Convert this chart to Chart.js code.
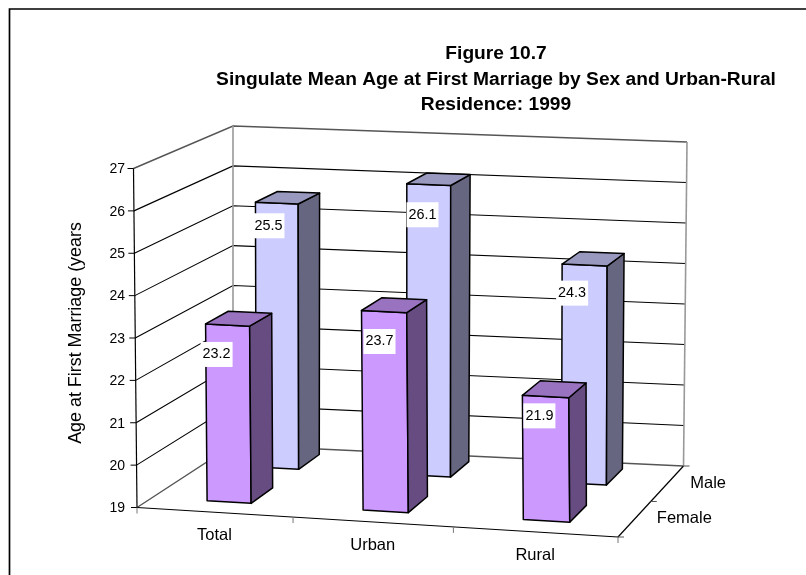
<!DOCTYPE html>
<html>
<head>
<meta charset="utf-8">
<title>Figure 10.7</title>
<script src="https://cdn.jsdelivr.net/npm/chart.js@4"></script>
<style>
  html, body { margin: 0; padding: 0; background: #fff; }
  #wrap { position: relative; width: 806px; height: 575px; }
</style>
</head>
<body>
<div id="wrap"><canvas id="marriageChart" width="806" height="575"></canvas></div>
<script>
const categories = ['Total', 'Urban', 'Rural'];
const femaleAges = [23.2, 23.7, 21.9];
const maleAges = [25.5, 26.1, 24.3];
const depthLabels = ['Female', 'Male'];
const titleLines = ['Figure 10.7', 'Singulate Mean Age at First Marriage by Sex and Urban-Rural', 'Residence: 1999'];
const yTitle = 'Age at First Marriage (years';

const FONT = '"Liberation Sans", Arial, sans-serif';

// corners of the 3d box on screen, b = floor, t = top, f/b = front/back, l/r = left/right
const box = {
    bfl: [137, 507.5], bfr: [618, 537], bbl: [233, 445], bbr: [683.5, 466],
    tfl: [133.5, 168.5], tfr: [614.5, 189], tbl: [233, 126], tbr: [687, 142]
};
const depthRange = [[0.16, 0.40], [0.69, 0.92]]; // female row, male row
const faceColors = [
    { front: '#CC99FF', top: '#9973BF', side: '#664C80' },
    { front: '#CCCCFF', top: '#9999BF', side: '#666680' }
];
// excel placed the data labels by hand, offset from front top left corner of the bar
const labelNudge = [
    [[11, 30.5], [18, 31], [17, 20.5]],
    [[13, 23.5], [15.7, 31], [10, 29]]
];
const depthLabelNudge = [50, 41];

function lerp(a, b, t) { return [a[0] + (b[0] - a[0]) * t, a[1] + (b[1] - a[1]) * t]; }

function project(u, v, w) {
    u = u - 0.04 * u * (1 - u); // slight perspective squeeze
    const floor = lerp(lerp(box.bfl, box.bfr, u), lerp(box.bbl, box.bbr, u), w);
    const top = lerp(lerp(box.tfl, box.tfr, u), lerp(box.tbl, box.tbr, u), w);
    return lerp(floor, top, v);
}

function line(ctx, pts, color, width) {
    ctx.beginPath();
    pts.forEach((p, i) => i ? ctx.lineTo(p[0], p[1]) : ctx.moveTo(p[0], p[1]));
    ctx.strokeStyle = color;
    ctx.lineWidth = width;
    ctx.stroke();
}

function face(ctx, pts, fill) {
    ctx.beginPath();
    pts.forEach((p, i) => i ? ctx.lineTo(p[0], p[1]) : ctx.moveTo(p[0], p[1]));
    ctx.closePath();
    ctx.fillStyle = fill;
    ctx.fill();
    ctx.strokeStyle = '#000';
    ctx.lineWidth = 1.5;
    ctx.lineJoin = 'round';
    ctx.stroke();
}

function text(ctx, str, x, y, font, rotate) {
    ctx.save();
    ctx.translate(x, y);
    if (rotate) ctx.rotate(rotate);
    ctx.font = font;
    ctx.fillStyle = '#000';
    ctx.textAlign = 'center';
    ctx.textBaseline = 'middle';
    ctx.fillText(str, 0, 0);
    ctx.restore();
}

const box3d = {
    id: 'box3d',
    beforeDatasetsDraw(chart) {
        const ctx = chart.ctx;
        const yScale = chart.scales.y;
        const area = chart.chartArea;

        // frame
        line(ctx, [[9.5, 575], [9.5, 9], [806, 9]], '#000', 1.7);

        // walls
        yScale.ticks.forEach(t => {
            const v = (area.bottom - yScale.getPixelForValue(t.value)) / area.height;
            const edge = t.value === 27 || t.value === 19;
            line(ctx, [project(0, v, 0), project(0, v, 1), project(1, v, 1)], edge ? '#555' : '#000', edge ? 1.4 : 1.1);
            const p = project(0, v, 0);
            line(ctx, [p, [p[0] - 6, p[1]]], '#000', 1);
        });
        line(ctx, [project(0, 0, 1), project(0, 1, 1)], '#999', 1.6);
        line(ctx, [project(1, 0, 1), project(1, 1, 1)], '#999', 1.6);
        line(ctx, [project(0, 0, 0), project(0, 1, 0)], '#000', 1.2);

        // floor edges and their ticks
        line(ctx, [project(0, 0, 0), project(1, 0, 0)], '#000', 1.2);
        line(ctx, [project(1, 0, 0), project(1, 0, 1)], '#000', 1.2);
        for (let i = 0; i <= categories.length; i++) {
            const p = project(i / categories.length, 0, 0);
            line(ctx, [p, [p[0], p[1] + 6]], '#777', 1);
        }
        for (let i = 0; i <= depthLabels.length; i++) {
            const p = project(1, 0, i / depthLabels.length);
            line(ctx, [p, [p[0] + 6, p[1]]], '#555', 1);
        }

        // bars, back row first so the front row covers it
        [1, 0].forEach(d => {
            const range = depthRange[d];
            chart.getDatasetMeta(d).data.forEach(bar => {
                const l = (bar.x - bar.width / 2 - area.left) / area.width;
                const r = (bar.x + bar.width / 2 - area.left) / area.width;
                const v = (area.bottom - bar.y) / area.height;
                const c = faceColors[d];
                face(ctx, [project(l, v, range[0]), project(r, v, range[0]), project(r, 0, range[0]), project(l, 0, range[0])], c.front);
                face(ctx, [project(r, v, range[0]), project(r, v, range[1]), project(r, 0, range[1]), project(r, 0, range[0])], c.side);
                face(ctx, [project(l, v, range[0]), project(l, v, range[1]), project(r, v, range[1]), project(r, v, range[0])], c.top);
            });
        });
    },
    afterDraw(chart) {
        const ctx = chart.ctx;
        const area = chart.chartArea;

        // data labels with their white boxes
        [0, 1].forEach(d => {
            const values = chart.data.datasets[d].data;
            chart.getDatasetMeta(d).data.forEach((bar, i) => {
                const l = (bar.x - bar.width / 2 - area.left) / area.width;
                const v = (area.bottom - bar.y) / area.height;
                const p = project(l, v, depthRange[d][0]);
                const x = p[0] + labelNudge[d][i][0];
                const y = p[1] + labelNudge[d][i][1];
                ctx.fillStyle = '#fff';
                ctx.fillRect(x - 16, y - 12.5, 32, 25);
                text(ctx, values[i].toFixed(1), x, y, '14.4px ' + FONT);
            });
        });

        // category labels sit under the slanted front edge
        const xScale = chart.scales.x;
        categories.forEach((name, i) => {
            const u = (xScale.getPixelForValue(i) - area.left) / area.width;
            const p = project(u, 0, 0);
            text(ctx, name, p[0], p[1] + 23.5, '16.5px ' + FONT);
        });
        depthLabels.forEach((name, i) => {
            const p = project(1, 0, (i + 0.5) / depthLabels.length);
            text(ctx, name, p[0] + depthLabelNudge[i], p[1] - 0.5, '16.5px ' + FONT);
        });

        // titles
        titleLines.forEach((s, i) => text(ctx, s, 496, 54 + i * 25.3, 'bold 19.2px ' + FONT));
        text(ctx, yTitle, 76, 333, '17.9px ' + FONT, -Math.PI / 2);
    }
};

new Chart(document.getElementById('marriageChart'), {
    type: 'bar',
    data: {
        labels: categories,
        datasets: [
            { label: 'Female', data: femaleAges, backgroundColor: 'transparent', grouped: false },
            { label: 'Male', data: maleAges, backgroundColor: 'transparent', grouped: false }
        ]
    },
    options: {
        responsive: false,
        animation: false,
        events: [],
        barPercentage: 0.285,
        categoryPercentage: 1,
        layout: { padding: { left: 90, right: 806 - 618, top: 169.5, bottom: 575 - 508.5 } },
        plugins: { legend: { display: false }, title: { display: false }, tooltip: { enabled: false } },
        scales: {
            x: { display: false },
            y: {
                min: 19,
                max: 27,
                afterFit(scale) { scale.width = 47; },
                border: { display: false },
                grid: { display: false, drawTicks: false },
                ticks: { stepSize: 1, padding: 12, color: '#000', font: { family: FONT, size: 14 } }
            }
        }
    },
    plugins: [box3d]
});
</script>
</body>
</html>
